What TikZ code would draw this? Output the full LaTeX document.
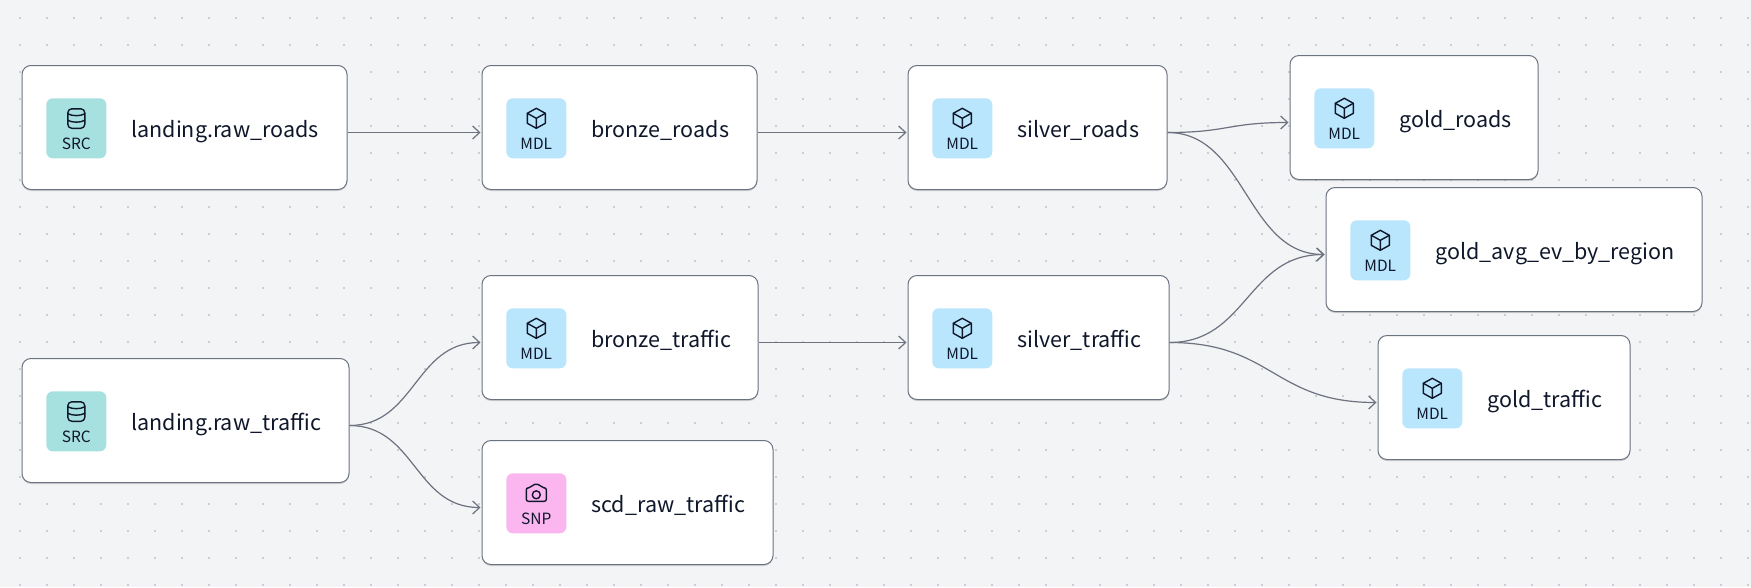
\documentclass[tikz,border=0pt]{standalone}
\usepackage{fontspec}
\setmainfont{Noto Sans CJK JP}
\usetikzlibrary{arrows.meta,shadows,calc}
\definecolor{canvasbg}{HTML}{F3F4F6}
\definecolor{dotgray}{HTML}{A3A8B0}
\definecolor{edgegray}{HTML}{6E7280}
\definecolor{boxline}{HTML}{6B7280}
\definecolor{inkdark}{HTML}{0F172A}
\definecolor{srcfill}{HTML}{A6E1E0}
\definecolor{mdlfill}{HTML}{BAE6FD}
\definecolor{snpfill}{HTML}{FBB6F0}
\tikzset{
  x=1pt,y=-1pt,
  dagbox/.style={draw=boxline,line width=1pt,fill=white,rounded corners=9pt,inner sep=0pt,
    drop shadow={shadow xshift=0pt,shadow yshift=-1.5pt,opacity=.15,fill=black}},
  tile/.style={rounded corners=6.5pt,minimum width=60pt,minimum height=60pt,inner sep=0pt},
  tilelabel/.style={font=\fontsize{15.5}{15.5}\selectfont,text=inkdark,anchor=base,inner sep=0pt},
  dagname/.style={font=\fontsize{21.5}{21.5}\selectfont,text=inkdark,anchor=base west,inner sep=0pt},
  icon/.style={draw=inkdark,line width=1.4pt,line join=round,line cap=round},
  edge/.style={draw=edgegray,line width=1.2pt,-{Straight Barb[length=7pt,width=13pt,line width=1.2pt]}},
}
% name, left, top, right, bottom, fill, label, icon macro, text
\newcommand{\dagnode}[9]{%
  \pgfmathsetmacro{\cxv}{(#2+#4)/2}\pgfmathsetmacro{\cyv}{(#3+#5)/2+0.5}%
  \pgfmathsetmacro{\wv}{#4-#2}\pgfmathsetmacro{\hv}{#5-#3}%
  \pgfmathsetmacro{\txv}{#2+54.3}\pgfmathsetmacro{\tyv}{#3+63.3}%
  \pgfmathsetmacro{\lyv}{#3+84.5}\pgfmathsetmacro{\iyv}{#3+53.3}%
  \pgfmathsetmacro{\nxv}{#2+109.2}\pgfmathsetmacro{\nyv}{\cyv+9.5}%
  \node[dagbox,minimum width=\wv pt,minimum height=\hv pt] (#1) at (\cxv,\cyv) {};
  \node[tile,fill=#6] (#1-tile) at (\txv,\tyv) {};
  \begin{scope}[shift={(\txv,\iyv)}]#8\end{scope}
  \node[tilelabel] (#1-kind) at (\txv,\lyv) {#7};
  \node[dagname] (#1-name) at (\nxv,\nyv) {#9};
}
\newcommand{\cubeicon}{%
  \draw[icon] (0,-10) -- (9,-5) -- (9,5) -- (0,10) -- (-9,5) -- (-9,-5) -- cycle;
  \draw[icon] (-9,-5) -- (0,0) -- (9,-5) (0,0) -- (0,10);}
\newcommand{\dbicon}{%
  \draw[icon,rounded corners=4pt] (-8.5,-9.5) rectangle (8.5,10);
  \draw[icon] (-8.5,-4.5) .. controls (-4,-2) and (4,-2) .. (8.5,-4.5);
  \draw[icon] (-8.5,2) .. controls (-4,4.5) and (4,4.5) .. (8.5,2);}
\newcommand{\camicon}{%
  \draw[icon,rounded corners=2pt] (-10,-5.5) -- (-5.5,-5.5) -- (-3.5,-9) -- (3.5,-9) -- (5.5,-5.5) -- (10,-5.5) -- (10,8) -- (-10,8) -- cycle;
  \draw[icon] (0,1.5) circle[radius=4];}
% edge from a to b, entering/leaving 5pt below the mid height
\newcommand{\dagedge}[2]{%
  \draw[edge] let \p1=([yshift=-5pt]#1.east), \p2=([shift={(-1pt,-5pt)}]#2.west) in
    (\p1) .. controls ({0.5*\x1+0.5*\x2},\y1) and ({0.5*\x1+0.5*\x2},\y2) .. (\p2);}
\begin{document}
\begin{tikzpicture}
\useasboundingbox (0,0) rectangle (1751,587);
\fill[canvasbg] (0,0) rectangle (1751,587);
\foreach \i in {0,...,64}{\foreach \j in {0,...,21}{
  \fill[dotgray] ({20+27*\i},{18+27*\j}) circle[radius=0.95];}}
\dagnode{rawroads}{22}{65}{347}{189}{srcfill}{SRC}{\dbicon}{landing.raw\_roads}
\dagnode{bronzeroads}{482}{65}{757}{189}{mdlfill}{MDL}{\cubeicon}{bronze\_roads}
\dagnode{silverroads}{908}{65}{1167}{189}{mdlfill}{MDL}{\cubeicon}{silver\_roads}
\dagnode{goldroads}{1290}{55}{1538}{179}{mdlfill}{MDL}{\cubeicon}{gold\_roads}
\dagnode{goldavg}{1326}{187}{1702}{311}{mdlfill}{MDL}{\cubeicon}{gold\_avg\_ev\_by\_region}
\dagnode{rawtraffic}{22}{358}{349}{482}{srcfill}{SRC}{\dbicon}{landing.raw\_traffic}
\dagnode{bronzetraffic}{482}{275}{758}{399}{mdlfill}{MDL}{\cubeicon}{bronze\_traffic}
\dagnode{silvertraffic}{908}{275}{1169}{399}{mdlfill}{MDL}{\cubeicon}{silver\_traffic}
\dagnode{goldtraffic}{1378}{335}{1630}{459}{mdlfill}{MDL}{\cubeicon}{gold\_traffic}
\dagnode{scd}{482}{440}{773}{564}{snpfill}{SNP}{\camicon}{scd\_raw\_traffic}
\dagedge{rawroads}{bronzeroads}
\dagedge{bronzeroads}{silverroads}
\dagedge{silverroads}{goldroads}
\dagedge{silverroads}{goldavg}
\dagedge{silvertraffic}{goldavg}
\dagedge{silvertraffic}{goldtraffic}
\dagedge{bronzetraffic}{silvertraffic}
\dagedge{rawtraffic}{bronzetraffic}
\dagedge{rawtraffic}{scd}
\end{tikzpicture}
\end{document}
